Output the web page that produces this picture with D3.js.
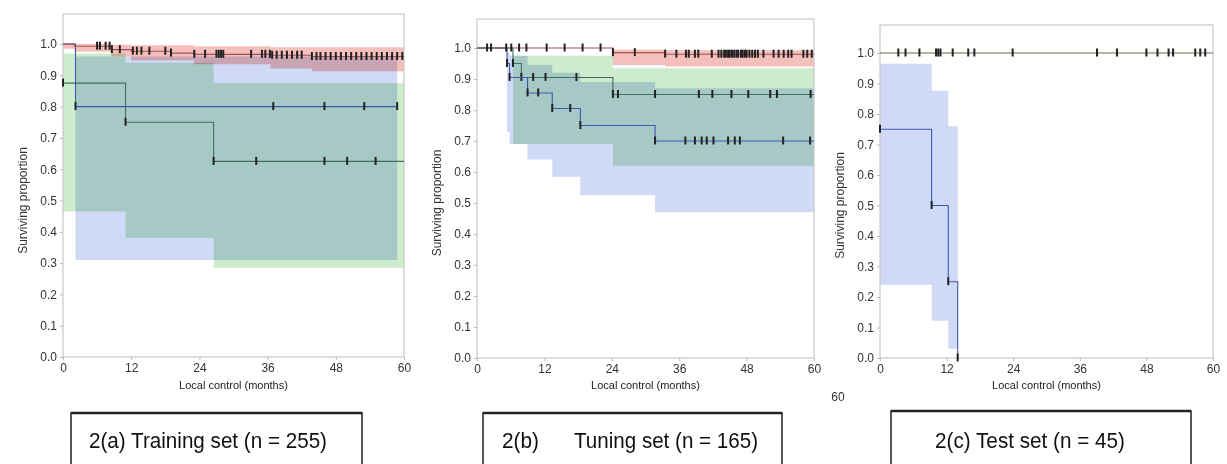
<!DOCTYPE html>
<html>
<head>
<meta charset="utf-8">
<script src="https://cdn.jsdelivr.net/npm/d3@7"></script>
<style>
  body { margin: 0; background: #fff; }
  svg text { font-family: "Liberation Sans", Arial, sans-serif; }
  .band { mix-blend-mode: multiply; }
</style>
</head>
<body>
<div id="chart"></div>
<script>
// Data (months, proportion)

var xTicks = [0, 12, 24, 36, 48, 60];
var yTicks = [0.0, 0.1, 0.2, 0.3, 0.4, 0.5, 0.6, 0.7, 0.8, 0.9, 1.0];

// 2(a) training set
var trainRedCurve = [[0, 1.0], [2, 0.993], [8.5, 0.982], [12, 0.977], [19, 0.971], [23, 0.967], [36.5, 0.964], [43.8, 0.96], [60, 0.96]];
var trainRedBand = [[0, 0.985, 1.0], [2, 0.975, 1.0], [8.5, 0.96, 0.998], [12, 0.948, 0.996], [23, 0.935, 0.993], [36.5, 0.922, 0.99], [43.8, 0.913, 0.99], [60, 0.913, 0.99]];
var trainRedCensor = [6, 6.5, 7.5, 8.2, 8.6, 10, 12.3, 13, 13.8, 15.2, 18, 19, 23.1, 25, 27, 27.4, 27.8, 28.2, 33.1, 35, 35.6, 36.4, 36.8, 37.6, 38.5, 39.4, 40.3, 41.2, 42, 43.8, 44.6, 45.3, 46.2, 47.1, 48, 48.9, 49.8, 50.7, 51.6, 52.5, 53.4, 54.3, 55.2, 56.1, 57, 57.9, 58.8, 59.7];
var trainGreenCurve = [[0, 0.875], [11, 0.75], [26.5, 0.625], [60, 0.625]];
var trainGreenBand = [[0, 0.465, 0.97], [11, 0.38, 0.94], [26.5, 0.285, 0.875], [60, 0.285, 0.875]];
var trainGreenCensor = [0, 11, 26.5, 34, 46, 50, 55];
var trainBlueCurve = [[0, 1.0], [2.2, 0.8], [58.8, 0.8]];
var trainBlueBand = [[2.2, 0.31, 0.96], [58.8, 0.31, 0.96]];
var trainBlueCensor = [2.2, 37, 46, 53, 58.8];

// 2(b) tuning set
var tuneRedCurve = [[0, 1.0], [24.2, 0.985], [33.5, 0.98], [60, 0.98]];
var tuneRedBand = [[24.2, 0.945, 0.995], [33.5, 0.94, 0.993], [60, 0.94, 0.993]];
var tuneRedCensor = [1.8, 2.5, 5.2, 6.1, 7.5, 8.8, 12.4, 15.6, 18.8, 22.0, 24.2, 28.1, 33.5, 35.5, 37.2, 37.7, 38.8, 39.4, 41.8, 43, 43.5, 44, 44.3, 44.7, 45, 45.4, 45.8, 46.2, 46.5, 47, 47.3, 47.7, 48, 48.5, 49, 49.5, 50, 51, 52.8, 53.7, 54.6, 55.4, 56, 58.1, 58.8, 59.6];
var tuneGreenCurve = [[0, 1.0], [6.4, 0.95], [7.9, 0.905], [24.2, 0.85], [60, 0.85]];
var tuneGreenBand = [[6.4, 0.69, 0.975], [24.2, 0.62, 0.935], [60, 0.62, 0.935]];
var tuneGreenCensor = [6.4, 7.9, 10, 12.2, 17.7, 24.2, 25.1, 31.7, 39.5, 41.9, 45.3, 48.3, 52.2, 53.4, 59.4];
var tuneBlueCurve = [[0, 1.0], [5.35, 0.95], [5.8, 0.905], [9.0, 0.855], [13.4, 0.805], [18.4, 0.75], [31.7, 0.70], [60, 0.70]];
var tuneBlueBand = [[5.35, 0.73, 0.985], [5.8, 0.69, 0.975], [9.0, 0.64, 0.945], [13.4, 0.585, 0.92], [18.4, 0.525, 0.89], [31.7, 0.47, 0.87], [60, 0.47, 0.87]];
var tuneBlueCensor = [5.35, 5.8, 9.0, 10.9, 13.4, 16.6, 18.4, 31.7, 37.1, 38.8, 40, 40.9, 42.1, 44.7, 45.9, 46.8, 54.5, 59.3];

// 2(c) test set
var testRedCurve = [[0, 1.0], [60, 1.0]];
var testRedCensor = [3.3, 4.6, 7.1, 10.1, 10.5, 10.9, 13.1, 15.9, 17, 23.9, 39.1, 42.7, 48, 50, 52, 52.8, 56.8, 57.7, 58.6];
var testBlueCurve = [[0, 0.75], [9.3, 0.5], [12.3, 0.25], [14, 0.0], [14, 0.0]];
var testBlueBand = [[0, 0.24, 0.965], [9.3, 0.122, 0.876], [12.3, 0.03, 0.76], [14, 0.03, 0.76]];
var testBlueCensor = [0, 9.3, 12.3, 14];

var captions = ["2(a) Training set (n = 255)", "2(b)", "Tuning set (n = 165)", "2(c) Test set (n = 45)"];

// colours
var col = {
  redBand: "#f5c0bc", greenBand: "#cdeccd", blueBand: "#d0daf6",
  redLine: "#a05050", greenLine: "#3f6f62", blueLine: "#3b5bb0", oliveLine: "#6e6a4c"
};

var svg = d3.select("#chart").append("svg")
  .attr("width", 1227).attr("height", 464);

var panels = [
  { left: 63, right: 404, top: 14, y1: 44, y0: 357,
    bands: [[trainGreenBand, col.greenBand], [trainBlueBand, col.blueBand], [trainRedBand, col.redBand]],
    curves: [[trainGreenCurve, col.greenLine, trainGreenCensor], [trainBlueCurve, col.blueLine, trainBlueCensor], [trainRedCurve, col.redLine, trainRedCensor]] },
  { left: 477, right: 814, top: 19, y1: 48, y0: 358,
    bands: [[tuneGreenBand, col.greenBand], [tuneBlueBand, col.blueBand], [tuneRedBand, col.redBand]],
    curves: [[tuneGreenCurve, col.greenLine, tuneGreenCensor], [tuneBlueCurve, col.blueLine, tuneBlueCensor], [tuneRedCurve, col.redLine, tuneRedCensor]] },
  { left: 880, right: 1213, top: 25, y1: 53, y0: 358,
    bands: [[testBlueBand, col.blueBand]],
    curves: [[testBlueCurve, col.blueLine, testBlueCensor], [testRedCurve, col.oliveLine, testRedCensor]] }
];

// value of a step curve at time t
function stepValue(curve, t) {
  var v = curve[0][1];
  curve.forEach(function(p) { if (p[0] <= t) v = p[1]; });
  return v;
}

panels.forEach(function(p) {
  var x = d3.scaleLinear().domain([0, 60]).range([p.left, p.right]);
  var y = d3.scaleLinear().domain([0, 1]).range([p.y0, p.y1]);
  var g = svg.append("g");

  // confidence bands
  var area = d3.area().curve(d3.curveStepAfter)
    .x(function(d) { return x(d[0]); })
    .y0(function(d) { return y(d[1]); })
    .y1(function(d) { return y(d[2]); });
  p.bands.forEach(function(b) {
    g.append("path").attr("class", "band").attr("d", area(b[0])).attr("fill", b[1]);
  });

  // frame
  g.append("rect")
    .attr("x", p.left).attr("y", p.top)
    .attr("width", p.right - p.left).attr("height", p.y0 - p.top)
    .attr("fill", "none").attr("stroke", "#c9c9c9").attr("stroke-width", 1.2);

  // step curves + censor marks
  var line = d3.line().curve(d3.curveStepAfter)
    .x(function(d) { return x(d[0]); })
    .y(function(d) { return y(d[1]); });
  p.curves.forEach(function(c) {
    g.append("path").attr("d", line(c[0]))
      .attr("fill", "none").attr("stroke", c[1]).attr("stroke-width", 1.1);
    g.selectAll(null).data(c[2]).enter().append("rect")
      .attr("x", function(d) { return x(d) - 1; })
      .attr("y", function(d) { return y(stepValue(c[0], d)) - 4.5; })
      .attr("width", 2).attr("height", 8)
      .attr("fill", "#222");
  });

  // axes
  var ya = g.append("g").attr("transform", "translate(" + p.left + ",0)")
    .call(d3.axisLeft(y).tickValues(yTicks).tickFormat(d3.format(".1f")).tickSize(3));
  var xa = g.append("g").attr("transform", "translate(0," + p.y0 + ")")
    .call(d3.axisBottom(x).tickValues(xTicks).tickSize(3));
  [ya, xa].forEach(function(a) {
    a.select(".domain").remove();
    a.selectAll(".tick line").attr("stroke", "#bbb");
    a.selectAll("text").attr("fill", "#333").style("font-size", "12px");
  });

  // axis titles
  g.append("text")
    .attr("transform", "translate(" + (p.left - 36) + "," + ((p.y0 + p.y1) / 2) + ") rotate(-90)")
    .attr("text-anchor", "middle").attr("fill", "#333").style("font-size", "12px")
    .text("Surviving proportion");
  g.append("text")
    .attr("x", x(30)).attr("y", 389)
    .attr("text-anchor", "middle").attr("fill", "#222").style("font-size", "11px")
    .text("Local control (months)");
});

// stray "60" under panel b
svg.append("text").attr("x", 838).attr("y", 401).attr("text-anchor", "middle")
  .attr("fill", "#333").style("font-size", "12px").text("60");

// caption boxes
var boxes = [
  { x: 71, w: 291, top: 413 },
  { x: 483, w: 299, top: 413 },
  { x: 891, w: 300, top: 411 }
];
boxes.forEach(function(b) {
  svg.append("rect").attr("x", b.x).attr("y", b.top).attr("width", b.w).attr("height", 80)
    .attr("fill", "none").attr("stroke", "#222").attr("stroke-width", 1.5);
  svg.append("line").attr("x1", b.x).attr("x2", b.x + b.w).attr("y1", b.top).attr("y2", b.top)
    .attr("stroke", "#222").attr("stroke-width", 2.5);
});
// narrow caption text (Calibri-like width)
function caption(txt, xx, len) {
  svg.append("text").attr("x", xx).attr("y", 448)
    .attr("textLength", len).attr("lengthAdjust", "spacingAndGlyphs")
    .style("font-size", "22px").attr("fill", "#111")
    .text(txt);
}
caption(captions[0], 89, 238);
caption(captions[1], 502, 37);
caption(captions[2], 574, 184);
caption(captions[3], 935, 190);
</script>
</body>
</html>
